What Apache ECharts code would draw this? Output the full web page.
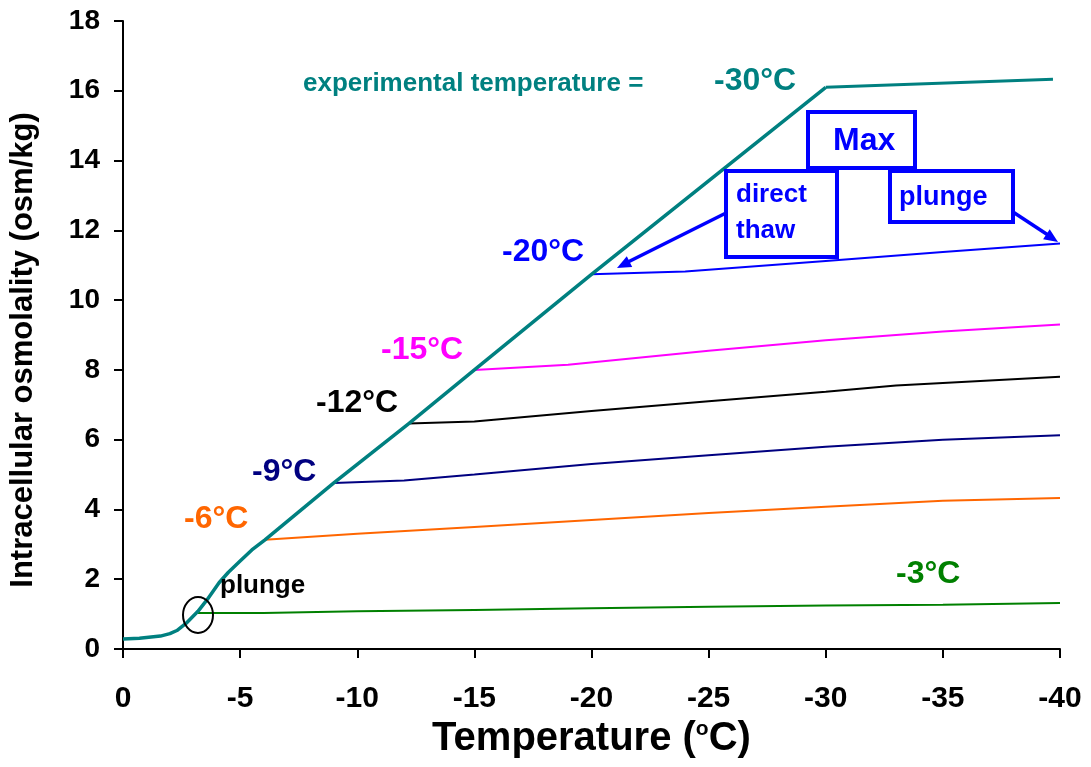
<!DOCTYPE html>
<html><head><meta charset="utf-8">
<script src="https://cdn.jsdelivr.net/npm/echarts@6/dist/echarts.min.js"></script>
<style>html,body{margin:0;padding:0;background:#fff}#c{width:1091px;height:767px}</style>
</head><body><div id="c"></div>
<script>
// x values are temperature magnitudes (displayed as negative °C)
var xTickLabels = ['0','-5','-10','-15','-20','-25','-30','-35','-40'];
var yTickLabels = ['0','2','4','6','8','10','12','14','16','18'];

var masterT = [0, 0.7, 1.6, 2.0, 2.3, 2.7, 3.2, 3.6, 4.1, 4.5, 5, 5.5, 6.06, 9, 12.2, 15, 20, 30];
var masterV = [0.29, 0.31, 0.37, 0.44, 0.53, 0.74, 1.08, 1.42, 1.9, 2.2, 2.52, 2.84, 3.13, 4.76, 6.46, 8.0, 10.74, 16.1];

var m3T = [3.2, 6, 10, 15, 20, 25, 30, 35, 40];
var m3V = [1.03, 1.03, 1.08, 1.12, 1.17, 1.21, 1.25, 1.27, 1.32];
var m6T = [6.06, 10, 15, 20, 25, 30, 35, 40];
var m6V = [3.13, 3.3, 3.5, 3.7, 3.9, 4.08, 4.25, 4.33];
var m9T = [9, 12, 15, 20, 25, 30, 35, 40];
var m9V = [4.76, 4.83, 5.0, 5.3, 5.55, 5.8, 6.0, 6.13];
var m12T = [12.2, 15, 20, 25, 30, 33, 40];
var m12V = [6.46, 6.52, 6.82, 7.1, 7.37, 7.55, 7.8];
var m15T = [15, 19, 25, 30, 35, 40];
var m15V = [8.0, 8.15, 8.55, 8.85, 9.1, 9.3];
var m20T = [20, 24, 30, 35, 40];
var m20V = [10.74, 10.82, 11.12, 11.38, 11.62];
var m30T = [30, 39.7];
var m30V = [16.1, 16.33];

function pairs(t, v){ return t.map(function(x,i){ return [x, v[i]]; }); }

var FONT = '"Liberation Sans", Arial, sans-serif';
var chart = echarts.init(document.getElementById('c'));

function side(name, t, v, color, w){
  return {name:name, type:'line', data:pairs(t,v), showSymbol:false, symbol:'none',
    lineStyle:{color:color, width:w||2}, z:2, animation:false};
}

// x = left edge, cy = vertical centre
function txt(x, cy, s, color, size){
  return {type:'text', left:x, top:Math.round(cy - size/2), z:100, style:{text:s, fill:color,
    font:'bold '+size+'px '+FONT}};
}

var BLUE = '#0000ff';
chart.setOption({
  backgroundColor:'#fff',
  animation:false,
  grid:{left:123, right:31, top:21, bottom:118},
  xAxis:{type:'value', min:0, max:40, interval:5,
    axisLine:{lineStyle:{color:'#000', width:2}},
    axisTick:{inside:false, length:9, lineStyle:{color:'#000', width:2}},
    splitLine:{show:false},
    axisLabel:{margin:35, color:'#000', fontSize:30, fontWeight:'bold', fontFamily:FONT,
      formatter:function(v){ return xTickLabels[Math.round(v/5)]; }},
    name:'Temperature ({s|o}C)', nameLocation:'middle', nameGap:64,
    nameTextStyle:{color:'#000', fontSize:40, fontWeight:'bold', fontFamily:FONT,
      rich:{s:{fontSize:21, fontWeight:'bold', fontFamily:FONT, color:'#000', verticalAlign:'top', padding:[0,0,16,0]}}}
  },
  yAxis:{type:'value', min:0, max:18, interval:2,
    axisLine:{show:true, lineStyle:{color:'#000', width:2}},
    axisTick:{show:true, inside:false, length:9, lineStyle:{color:'#000', width:2}},
    splitLine:{show:false},
    axisLabel:{margin:23, color:'#000', fontSize:28, fontWeight:'bold', fontFamily:FONT,
      formatter:function(v){ return yTickLabels[Math.round(v/2)]; }},
    name:'Intracellular osmolality (osm/kg)', nameLocation:'middle', nameGap:84,
    nameTextStyle:{color:'#000', fontSize:31, fontWeight:'bold', fontFamily:FONT, padding:[0,30,0,0]}
  },
  series:[
    side('-3', m3T, m3V, '#008000', 2),
    side('-6', m6T, m6V, '#ff6600', 2),
    side('-9', m9T, m9V, '#000080', 2),
    side('-12', m12T, m12V, '#000000', 2),
    side('-15', m15T, m15V, '#ff00ff', 2),
    side('-20', m20T, m20V, BLUE, 2),
    side('-30', m30T, m30V, '#008080', 3),
    {name:'master', type:'line', data:pairs(masterT, masterV), showSymbol:false, symbol:'none',
      lineStyle:{color:'#008080', width:3.5, join:'round'}, z:3, animation:false}
  ],
  graphic:[
    txt(303, 84, 'experimental temperature =', '#008080', 26),
    txt(714, 81, '-30°C', '#008080', 32),
    txt(502, 252, '-20°C', BLUE, 32),
    txt(381, 350, '-15°C', '#ff00ff', 32),
    txt(316, 403, '-12°C', '#000000', 32),
    txt(252, 472, '-9°C', '#000080', 32),
    txt(184, 519, '-6°C', '#ff6600', 32),
    txt(896, 574, '-3°C', '#008000', 32),
    txt(220, 586, 'plunge', '#000000', 26),
    {type:'ellipse', z:100, shape:{cx:198, cy:615, rx:15, ry:18}, style:{fill:null, stroke:'#000', lineWidth:2}},
    {type:'rect', z:100, shape:{x:808, y:112, width:107, height:56}, style:{fill:'#fff', stroke:BLUE, lineWidth:4}},
    txt(833, 141, 'Max', BLUE, 32),
    {type:'rect', z:100, shape:{x:726, y:171, width:111, height:86}, style:{fill:'#fff', stroke:BLUE, lineWidth:4}},
    txt(736, 195, 'direct', BLUE, 26),
    txt(736, 231, 'thaw', BLUE, 26),
    {type:'rect', z:100, shape:{x:890, y:171, width:123, height:51}, style:{fill:'#fff', stroke:BLUE, lineWidth:4}},
    txt(899, 197, 'plunge', BLUE, 27),
    {type:'line', z:100, shape:{x1:726, y1:213, x2:628, y2:262}, style:{stroke:BLUE, lineWidth:3.5}},
    {type:'polygon', z:100, shape:{points:[[617,268],[632.2,267.1],[626.8,256.3]]}, style:{fill:BLUE}},
    {type:'line', z:100, shape:{x1:1013, y1:212, x2:1048, y2:235}, style:{stroke:BLUE, lineWidth:3.5}},
    {type:'polygon', z:100, shape:{points:[[1058,242],[1043.1,239.2],[1049.7,229.2]]}, style:{fill:BLUE}}
  ]
});
</script></body></html>
